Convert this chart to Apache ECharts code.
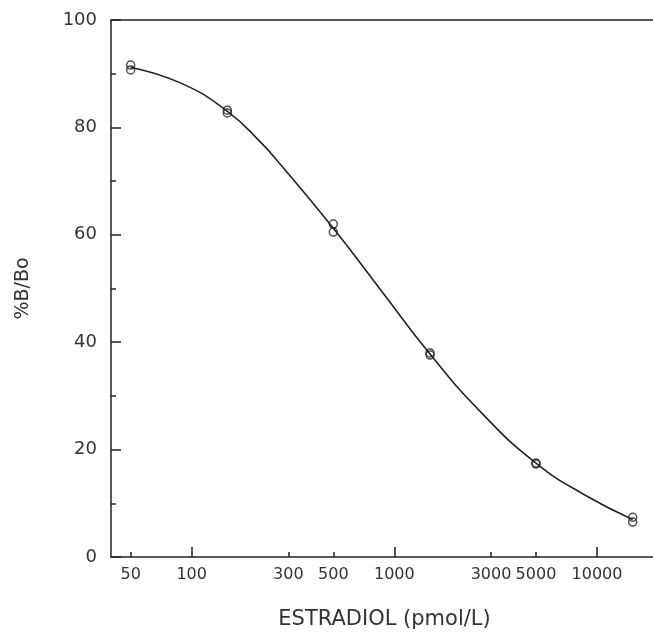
<!DOCTYPE html>
<html>
<head>
<meta charset="utf-8">
<script src="https://cdn.jsdelivr.net/npm/echarts@6/dist/echarts.min.js"></script>
<style>
html,body{margin:0;padding:0;background:#fff;}
#chart{width:653px;height:633px;}
</style>
</head>
<body>
<div id="chart"></div>
<script>
// Data
const concentrations = [50, 150, 500, 1500, 5000, 15000];
const replicateA = [91.6, 83.2, 62.0, 38.0, 17.5, 7.4];
const replicateB = [90.7, 82.7, 60.5, 37.6, 17.3, 6.5];
const curveX = [50, 89, 150, 217, 277, 500, 870, 1500, 2700, 5000, 8750, 15000];
const curveY = [91.2, 88.2, 83.0, 77.4, 72.9, 61.2, 49.4, 37.8, 26.8, 17.5, 11.5, 7.0];
const xLabelValues = [50, 100, 300, 500, 1000, 3000, 5000, 10000];
const xMajorTicks = [100, 1000, 10000];
const xMinorTicks = [50, 300, 500, 3000, 5000];
const yTickLabels = [0, 20, 40, 60, 80, 100];

const pairs = (xs, ys) => xs.map((x, i) => [x, ys[i]]);

const ink = '#222';
const textColor = '#333';
const font = 'DejaVu Sans';

const chart = echarts.init(document.getElementById('chart'), null, {renderer: 'canvas'});
const xBase = {
  type: 'log', logBase: 10, min: 40, max: 20000, gridIndex: 0,
  splitLine: {show: false}, minorTick: {show: false}, minorSplitLine: {show: false}
};
chart.setOption({
  animation: false,
  backgroundColor: '#fff',
  grid: {left: 111, top: 20, width: 547, bottom: 76, containLabel: false, outerBoundsMode: 'none'},
  xAxis: [
    Object.assign({}, xBase, {
      position: 'bottom',
      name: 'ESTRADIOL (pmol/L)', nameLocation: 'middle', nameGap: 52,
      nameTextStyle: {fontFamily: font, fontSize: 21, color: textColor},
      axisLine: {show: true, lineStyle: {color: ink, width: 1.5}},
      axisTick: {show: true, inside: true, length: 10, customValues: xMajorTicks, lineStyle: {color: ink, width: 1.5}},
      axisLabel: {show: true, margin: 10, customValues: xLabelValues, fontFamily: font, fontSize: 16, color: textColor,
        formatter: v => String(Math.round(v))}
    }),
    Object.assign({}, xBase, {
      position: 'bottom',
      axisLine: {show: false},
      axisTick: {show: true, inside: true, length: 5, customValues: xMinorTicks, lineStyle: {color: ink, width: 1.5}},
      axisLabel: {show: false}
    }),
    Object.assign({}, xBase, {
      position: 'top',
      axisLine: {show: true, lineStyle: {color: ink, width: 1.5}},
      axisTick: {show: false},
      axisLabel: {show: false}
    })
  ],
  yAxis: {
    type: 'value', min: 0, max: 100, interval: 20,
    name: '%B/Bo', nameLocation: 'middle', nameGap: 78,
    nameTextStyle: {fontFamily: font, fontSize: 19, color: textColor},
    axisLine: {show: true, lineStyle: {color: ink, width: 1.5}},
    axisTick: {show: true, inside: true, length: 10, lineStyle: {color: ink, width: 1.5}},
    minorTick: {show: true, splitNumber: 2, length: 5, lineStyle: {color: ink, width: 1.5}},
    splitLine: {show: false},
    axisLabel: {margin: 14, fontFamily: font, fontSize: 18, color: textColor,
      customValues: yTickLabels}
  },
  series: [
    {
      type: 'line', xAxisIndex: 0, data: pairs(curveX, curveY),
      smooth: 0.5, showSymbol: false, symbol: 'none',
      lineStyle: {color: ink, width: 1.6}, z: 2
    },
    {
      type: 'scatter', xAxisIndex: 0, data: pairs(concentrations, replicateA),
      symbol: 'circle', symbolSize: 8,
      itemStyle: {color: 'rgba(255,255,255,0)', borderColor: ink, borderWidth: 1.5}, z: 3
    },
    {
      type: 'scatter', xAxisIndex: 0, data: pairs(concentrations, replicateB),
      symbol: 'circle', symbolSize: 8,
      itemStyle: {color: 'rgba(255,255,255,0)', borderColor: ink, borderWidth: 1.5}, z: 3
    }
  ]
});
</script>
</body>
</html>
